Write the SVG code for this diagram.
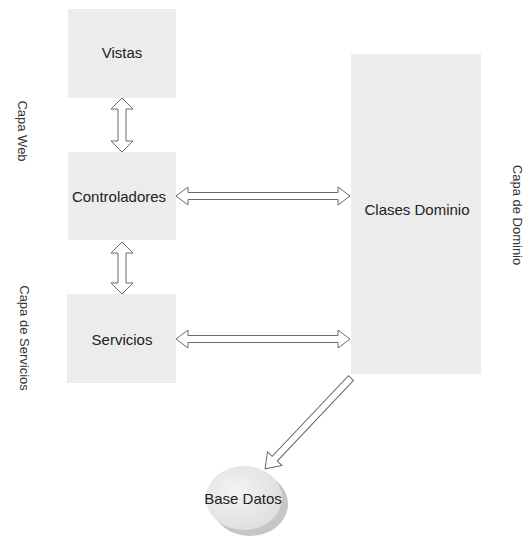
<svg xmlns="http://www.w3.org/2000/svg" width="527" height="541" viewBox="0 0 527 541">
<defs>
<style>
.box{fill:#ececec;stroke:none}
.lbl{font-family:"Liberation Sans",Arial,sans-serif;font-size:15px;fill:#222;text-anchor:middle}
.side{font-family:"Liberation Sans",Arial,sans-serif;font-size:13px;fill:#333;text-anchor:middle}
.arr{fill:#fff;stroke:#6a6a6a;stroke-width:1}
</style>
<radialGradient id="dbg" cx="0.4" cy="0.4" r="0.7">
<stop offset="0" stop-color="#f4f4f4"/>
<stop offset="1" stop-color="#dcdcdc"/>
</radialGradient>
</defs>
<rect width="527" height="541" fill="#fff"/>
<g id="label-web"><text class="side" transform="translate(18,131) rotate(90)">Capa Web</text></g>
<g id="label-servicios"><text class="side" transform="translate(20,338) rotate(90)">Capa de Servicios</text></g>
<g id="label-dominio"><text class="side" transform="translate(513,215) rotate(90)">Capa de Dominio</text></g>
<g id="vistas"><rect class="box" x="68" y="9" width="108" height="89"/><text class="lbl" x="122" y="58">Vistas</text></g>
<g id="controladores"><rect class="box" x="68" y="152" width="108" height="88"/><text class="lbl" x="119" y="202">Controladores</text></g>
<g id="servicios"><rect class="box" x="67" y="294" width="109" height="89"/><text class="lbl" x="122" y="345">Servicios</text></g>
<g id="clases-dominio"><rect class="box" x="351" y="54" width="130" height="320"/><text class="lbl" x="417" y="215">Clases Dominio</text></g>
<g id="base-datos">
<ellipse cx="250" cy="504" rx="38" ry="32" fill="#c6c6c6"/>
<ellipse cx="244" cy="498" rx="38" ry="32" fill="url(#dbg)"/>
<text class="lbl" x="243" y="504">Base Datos</text>
</g>
<g id="connectors">
<polygon class="arr" points="122,98 133,109 126,109 126,141 133,141 122,152 111,141 118,141 118,109 111,109"/>
<polygon class="arr" points="122,242 133,253 126,253 126,283 133,283 122,294 111,283 118,283 118,253 111,253"/>
<polygon class="arr" points="176,196 188,187 188,192.5 338,192.5 338,187 350,196 338,205 338,199.5 188,199.5 188,205"/>
<polygon class="arr" points="176,339 188,330 188,335.5 338,335.5 338,330 350,339 338,348 338,342.5 188,342.5 188,348"/>
<polygon class="arr" transform="translate(351,378) rotate(133.4)" points="0,-3.5 111,-3.5 111,-10 125,0 111,10 111,3.5 0,3.5"/>
</g>
</svg>
